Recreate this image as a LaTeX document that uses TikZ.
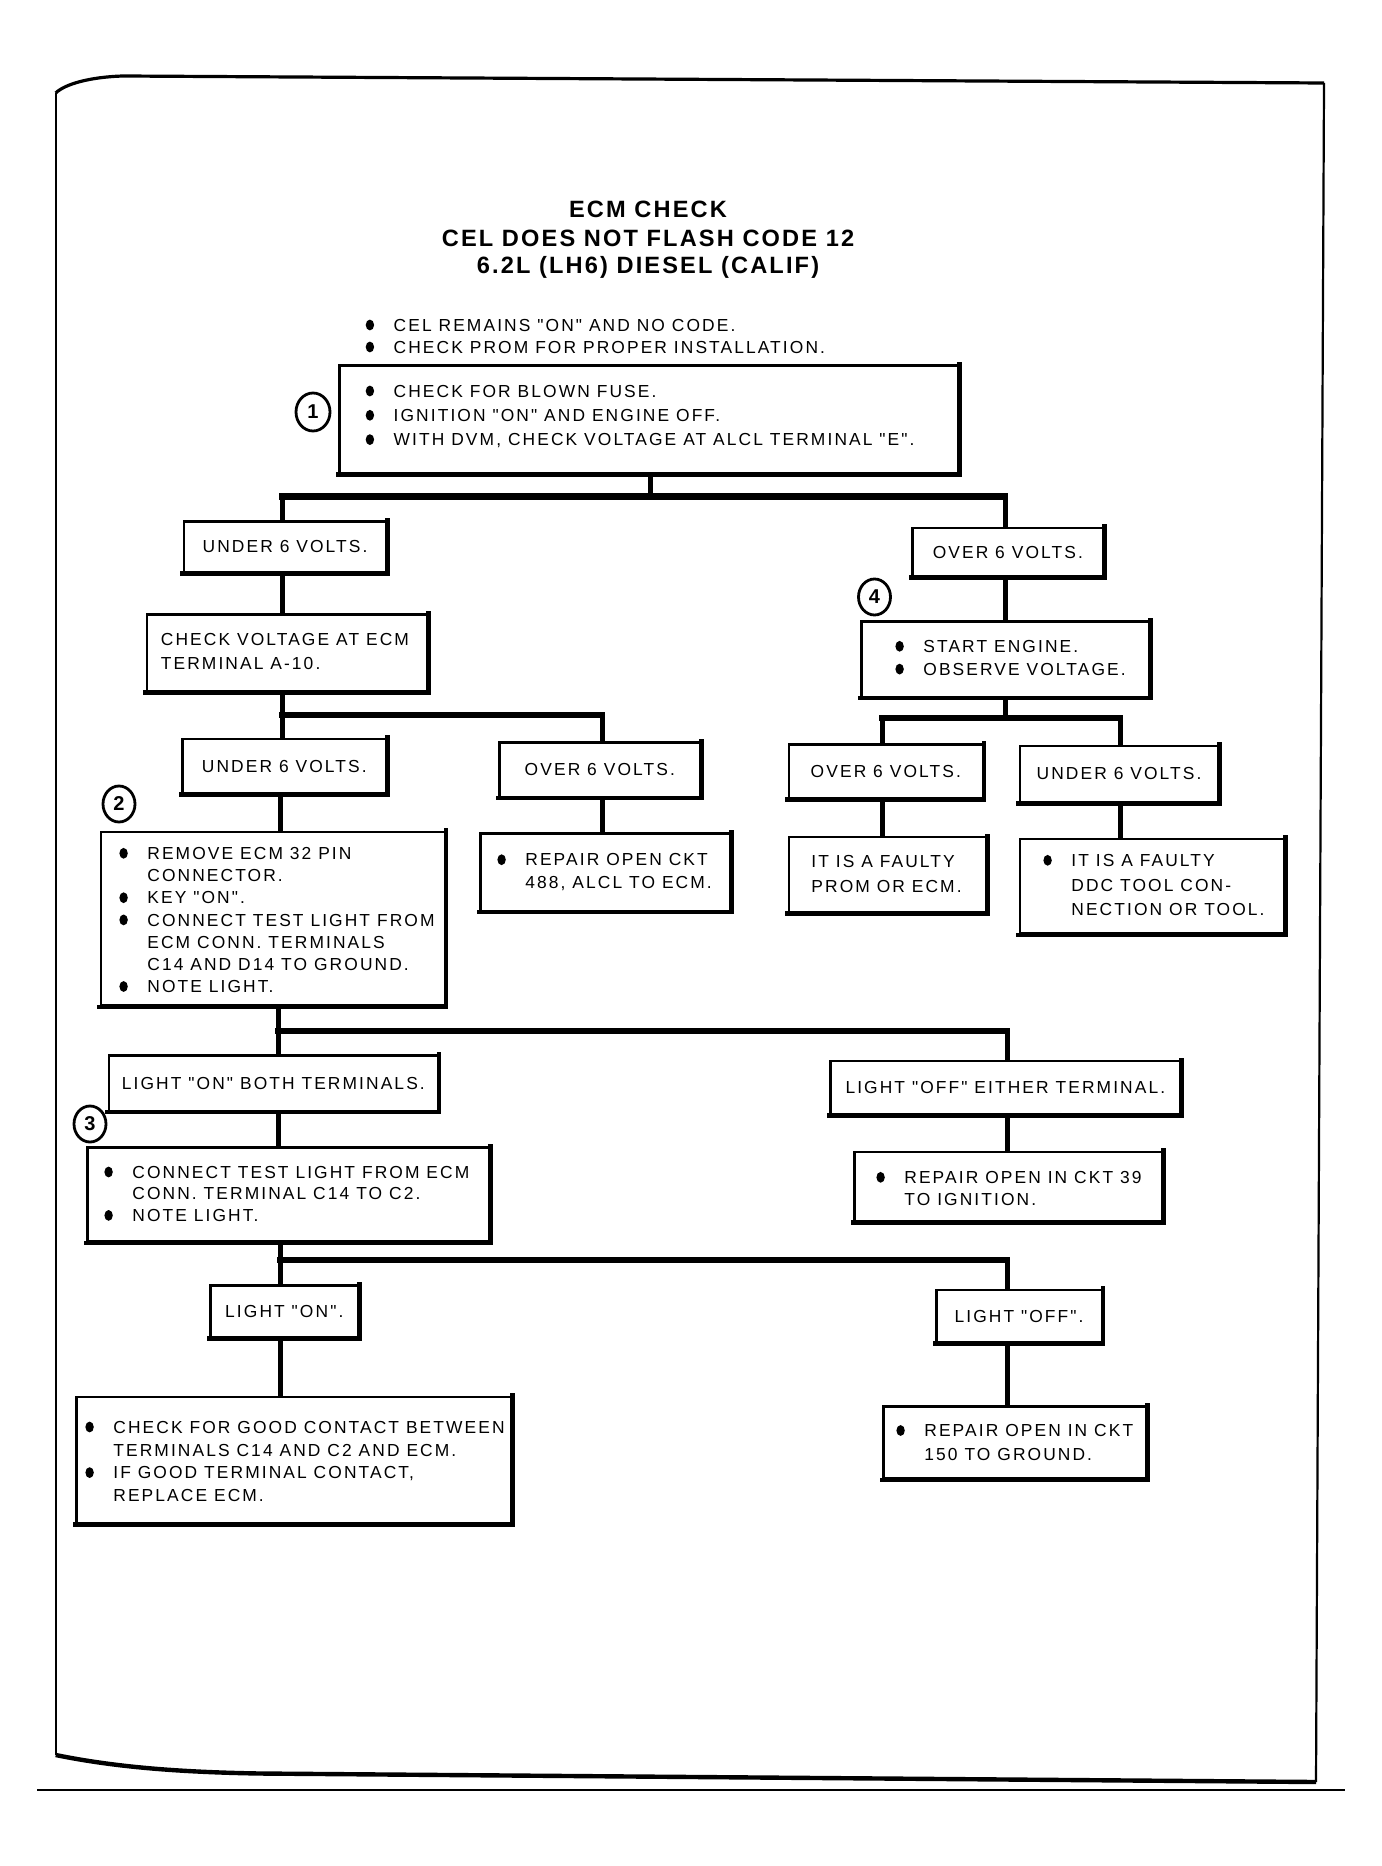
\documentclass[tikz,border=0pt]{standalone}
\usepackage{fontspec}
\usetikzlibrary{shapes.geometric}
\setmainfont{Liberation Sans}
\newfontfamily\bodyf[LetterSpace=12]{Liberation Sans}
\newfontfamily\ttlf[LetterSpace=9]{Liberation Sans}
\newcommand\bul{\tikz[baseline=-3.1pt]{\fill (0,0) ellipse [x radius=2.1pt, y radius=2.7pt];}}
\newlength\bi \setlength\bi{14pt}
\newcommand\bl[1]{\hbox{\makebox[\bi][l]{\bul}#1}}
\newcommand\cl[1]{\hbox{\hspace{\bi}#1}}
\newcommand\pl[1]{\hbox{#1}}
\newcommand\blk[2]{\vtop{\baselineskip=#1pt\lineskiplimit=-20pt\lineskip=0pt #2}}
\newcommand\bxe[1]{\draw[edge] (#1.south west) -- (#1.south east) -- (#1.north east);}
\begin{document}
\begin{tikzpicture}[
 x=0.5pt, y=-0.5pt,
 box/.style={draw, line width=1.3pt, inner sep=0pt, anchor=north west, font=\bodyf\fontsize{8.7pt}{11pt}\selectfont},
 edge/.style={line width=2.2pt, line cap=rect},
 conn/.style={line width=2.5pt},
 bar/.style={line width=3.3pt, line cap=rect},
 txt/.style={inner sep=0pt, anchor=base west, font=\bodyf\fontsize{8.7pt}{11pt}\selectfont},
 ttl/.style={inner sep=0pt, anchor=base, font=\ttlf\bfseries\fontsize{11.8pt}{14pt}\selectfont},
 num/.style={draw, ellipse, line width=1.4pt, inner sep=0pt, minimum width=16pt, minimum height=18pt, font=\ttlf\bfseries\fontsize{10pt}{10pt}\selectfont},
]
\useasboundingbox (0,0) rectangle (1381,1866);
\fill[white] (0,0) rectangle (1381,1866);

% frame
\draw[line width=1.1pt] (55.7,1755) -- (55.7,93);
\draw[line width=1.6pt] (55.7,93) .. controls (65,84) and (90,77) .. (123,76) -- (1324,83);
\draw[line width=1.1pt] (1324,83) -- (1316,1782);
\draw[line width=2.2pt] (55.7,1755) .. controls (110,1766) and (170,1772) .. (260,1773.5) -- (1316,1782);
\draw[line width=0.7pt] (37,1790) -- (1345,1790);

% title
\node[ttl] (h1) at (648,218) {ECM CHECK};
\node[ttl] (h2) at (648,246.5) {CEL DOES NOT FLASH CODE 12};
\node[ttl] (h3) at (648,274) {6.2L (LH6) DIESEL (CALIF)};

% top bullets
\node[txt] (tb) at (365.3,331.2) {\blk{11}{\bl{CEL REMAINS "ON" AND NO CODE.}\bl{CHECK PROM FOR PROPER INSTALLATION.}}};

% boxes
\node[box, minimum width=309.5pt, minimum height=54pt] (b1) at (338,364) {};
\node[box, minimum width=101.25pt, minimum height=25.5pt] (L1) at (182.5,520) {UNDER 6 VOLTS.};
\node[box, minimum width=95.5pt, minimum height=24.25pt] (R1) at (911,526.5) {OVER 6 VOLTS.};
\node[box, minimum width=140.25pt, minimum height=38.5pt] (L2) at (145.5,613) {};
\node[box, minimum width=144pt, minimum height=37.75pt] (R2) at (860,620) {};
\node[box, minimum width=102pt, minimum height=27.2pt] (L3) at (181,737.6) {UNDER 6 VOLTS.};
\node[box, minimum width=100.5pt, minimum height=27.25pt] (M3) at (498,741) {OVER 6 VOLTS.};
\node[box, minimum width=97pt, minimum height=27pt] (R3a) at (787.5,743) {OVER 6 VOLTS.};
\node[box, minimum width=99.25pt, minimum height=28.05pt] (R3b) at (1018.5,744.6) {UNDER 6 VOLTS.};
\node[box, minimum width=172pt, minimum height=86.9pt] (L4) at (99.6,830.6) {};
\node[box, minimum width=125pt, minimum height=38.75pt] (M4) at (479,832) {};
\node[box, minimum width=98.75pt, minimum height=37.6pt] (R4a) at (787.5,835.8) {};
\node[box, minimum width=132.25pt, minimum height=47.35pt] (R4b) at (1018.5,837.6) {};
\node[box, minimum width=164.45pt, minimum height=27.8pt] (L5) at (107.6,1054) {LIGHT "ON" BOTH TERMINALS.};
\node[box, minimum width=175pt, minimum height=26.6pt] (R5) at (829,1059.8) {LIGHT "OFF" EITHER TERMINAL.};
\node[box, minimum width=200.65pt, minimum height=47pt] (L6) at (86.4,1146.4) {};
\node[box, minimum width=154pt, minimum height=34.7pt] (R6) at (853,1150.6) {};
\node[box, minimum width=74pt, minimum height=25.9pt] (L7) at (209,1284) {LIGHT "ON".};
\node[box, minimum width=82.75pt, minimum height=26.25pt] (R7) at (935,1288.5) {LIGHT "OFF".};
\node[box, minimum width=217.5pt, minimum height=63.1pt] (L8) at (75,1395.5) {};
\node[box, minimum width=131.5pt, minimum height=36.15pt] (R8) at (882,1405) {};
\foreach \b in {b1,L1,R1,L2,R2,L3,M3,R3a,R3b,L4,M4,R4a,R4b,L5,R5,L6,R6,L7,R7,L8,R8} {\bxe{\b}}

% box texts
\node[txt] (t1) at (365.3,397.2) {\blk{12.15}{\bl{CHECK FOR BLOWN FUSE.}\bl{IGNITION "ON" AND ENGINE OFF.}\bl{WITH DVM, CHECK VOLTAGE AT ALCL TERMINAL "E".}}};
\node[txt] (t2) at (160.5,645.5) {\blk{12}{\pl{CHECK VOLTAGE AT ECM}\pl{TERMINAL A-10.}}};
\node[txt] (t3) at (895,652.5) {\blk{11.4}{\bl{START ENGINE.}\bl{OBSERVE VOLTAGE.}}};
\node[txt] (t4) at (119,859.5) {\blk{11.1}{\bl{REMOVE ECM 32 PIN}\cl{CONNECTOR.}\bl{KEY "ON".}\bl{CONNECT TEST LIGHT FROM}\cl{ECM CONN. TERMINALS}\cl{C14 AND D14 TO GROUND.}\bl{NOTE LIGHT.}}};
\node[txt] (t5) at (497,865.9) {\blk{11.4}{\bl{REPAIR OPEN CKT}\cl{488, ALCL TO ECM.}}};
\node[txt] (t6) at (811,867.2) {\blk{12.5}{\pl{IT IS A FAULTY}\pl{PROM OR ECM.}}};
\node[txt] (t7) at (1043,866.5) {\blk{12.25}{\bl{IT IS A FAULTY}\cl{DDC TOOL CON-}\cl{NECTION OR TOOL.}}};
\node[txt] (t8) at (104,1178.2) {\blk{10.85}{\bl{CONNECT TEST LIGHT FROM ECM}\cl{CONN. TERMINAL C14 TO C2.}\bl{NOTE LIGHT.}}};
\node[txt] (t9) at (876,1183.5) {\blk{10.85}{\bl{REPAIR OPEN IN CKT 39}\cl{TO IGNITION.}}};
\node[txt] (t10) at (85,1433.2) {\blk{11.4}{\bl{CHECK FOR GOOD CONTACT BETWEEN}\cl{TERMINALS C14 AND C2 AND ECM.}\bl{IF GOOD TERMINAL CONTACT,}\cl{REPLACE ECM.}}};
\node[txt] (t11) at (896,1436.7) {\blk{11.75}{\bl{REPAIR OPEN IN CKT}\cl{150 TO GROUND.}}};

% step numbers
\node[num, minimum width=17pt, minimum height=19pt] (n1) at (313,412) {1};
\node[num] (n2) at (119,804) {2};
\node[num] (n3) at (90,1124) {3};
\node[num] (n4) at (874.5,597) {4};

% junctions
\coordinate (j1) at (650,496.5);
\coordinate (jl1) at (282,496.5);
\coordinate (jr1) at (1005,496.5);
\coordinate (jl2) at (282,715);
\coordinate (jm2) at (602,715);
\coordinate (j3) at (1005,718);
\coordinate (ja3) at (882,718);
\coordinate (jb3) at (1120,718);
\coordinate (v34) at (280,800);
\coordinate (j4) at (278,1031);
\coordinate (jr4) at (1007,1031);
\coordinate (j5) at (280,1260);
\coordinate (jr5) at (1007,1260);

% connectors
\draw[conn] (b1.south -| j1) -- (j1);
\draw[bar] (jl1) -- (jr1);
\draw[conn] (jl1) -- (L1.north -| jl1);
\draw[conn] (jr1) -- (R1.north -| jr1);
\draw[conn] (L1.south -| jl1) -- (L2.north -| jl1);
\draw[conn] (R1.south -| jr1) -- (R2.north -| jr1);
\draw[conn] (L2.south -| jl2) -- (jl2);
\draw[bar] (jl2) -- (jm2);
\draw[conn] (jl2) -- (L3.north -| jl2);
\draw[conn] (jm2) -- (M3.north -| jm2);
\draw[conn] (R2.south -| j3) -- (j3);
\draw[bar] (ja3) -- (jb3);
\draw[conn] (ja3) -- (R3a.north -| ja3);
\draw[conn] (jb3) -- (R3b.north -| jb3);
\draw[conn] (L3.south -| v34) -- (L4.north -| v34);
\draw[conn] (M3.south -| jm2) -- (M4.north -| jm2);
\draw[conn] (R3a.south -| ja3) -- (R4a.north -| ja3);
\draw[conn] (R3b.south -| jb3) -- (R4b.north -| jb3);
\draw[conn] (L4.south -| j4) -- (j4);
\draw[bar] (j4) -- (jr4);
\draw[conn] (j4) -- (L5.north -| j4);
\draw[conn] (jr4) -- (R5.north -| jr4);
\draw[conn] (L5.south -| j4) -- (L6.north -| j4);
\draw[conn] (R5.south -| jr4) -- (R6.north -| jr4);
\draw[conn] (L6.south -| j5) -- (j5);
\draw[bar] (j5) -- (jr5);
\draw[conn] (j5) -- (L7.north -| j5);
\draw[conn] (jr5) -- (R7.north -| jr5);
\draw[conn] (L7.south -| j5) -- (L8.north -| j5);
\draw[conn] (R7.south -| jr5) -- (R8.north -| jr5);
\end{tikzpicture}
\end{document}
